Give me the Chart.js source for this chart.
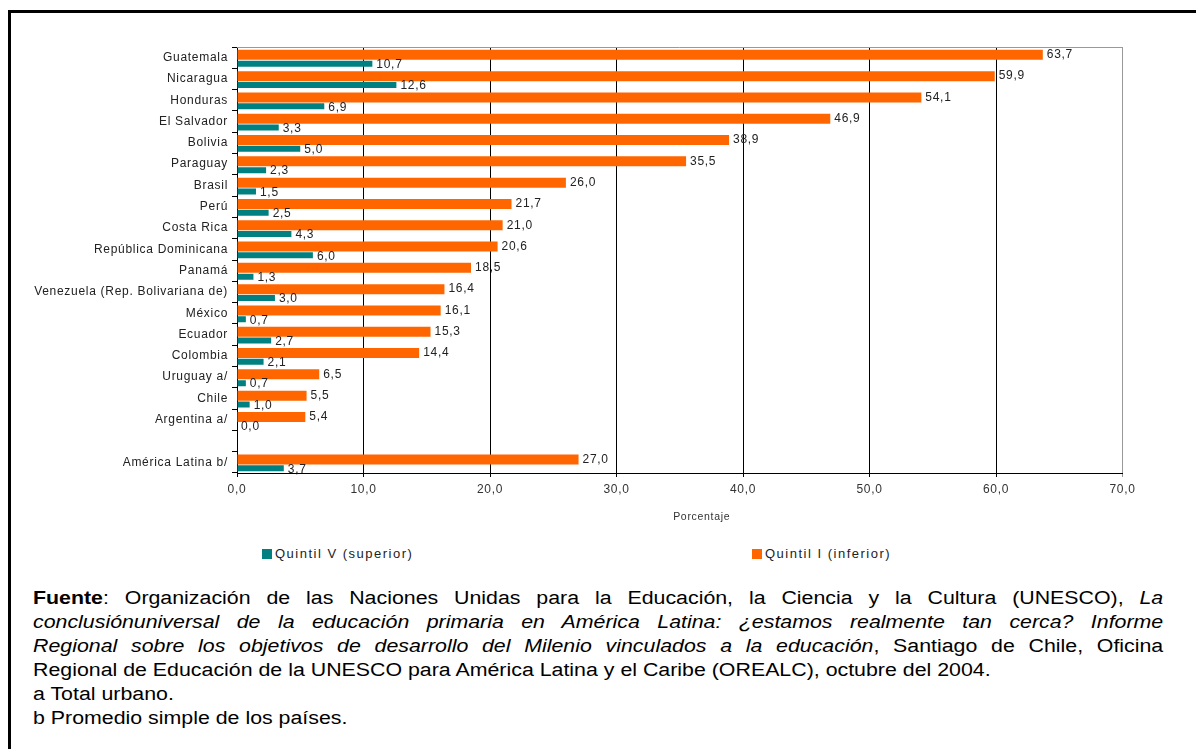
<!DOCTYPE html>
<html>
<head>
<meta charset="utf-8">
<script src="https://cdn.jsdelivr.net/npm/chart.js@4/dist/chart.umd.min.js"></script>
<style>
body { margin: 0; background: #fff; width: 1196px; height: 749px; overflow: hidden; position: relative; font-family: "Liberation Sans", Arial, sans-serif; }
#frame { position: absolute; left: 8px; top: 10px; width: 1200px; height: 760px; border-top: 3px solid #000; border-left: 3px solid #000; }
#wrap { position: absolute; left: 0; top: 0; width: 1196px; height: 540px; }
.leg { position: absolute; top: 546px; font-size: 13px; letter-spacing: 1.5px; line-height: 16px; color: #222; }
.leg i { display: inline-block; width: 10px; height: 10px; margin-right: 3px; vertical-align: -1px; }
#note { position: absolute; left: 33px; top: 586px; width: 953px; font-size: 18px; line-height: 24px; color: #000; transform: scaleX(1.186); transform-origin: 0 0; }
.j { text-align: justify; text-align-last: justify; }
</style>
</head>
<body>
<div id="frame"></div>
<div id="wrap"><canvas id="chart"></canvas></div>
<div class="leg" style="left:262px"><i style="background:#008080"></i>Quintil V (superior)</div>
<div class="leg" style="left:752px"><i style="background:#FF6600"></i>Quintil I (inferior)</div>
<div id="note">
<div class="j"><b>Fuente</b>: Organización de las Naciones Unidas para la Educación, la Ciencia y la Cultura (UNESCO), <i>La</i></div>
<div class="j"><i>conclusiónuniversal de la educación primaria en América Latina: ¿estamos realmente tan cerca? Informe</i></div>
<div class="j"><i>Regional sobre los objetivos de desarrollo del Milenio vinculados a la educación</i>, Santiago de Chile, Oficina</div>
<div>Regional de Educación de la UNESCO para América Latina y el Caribe (OREALC), octubre del 2004.</div>
<div>a Total urbano.</div>
<div>b Promedio simple de los países.</div>
</div>
<script>
var paises = ['Guatemala', 'Nicaragua', 'Honduras', 'El Salvador', 'Bolivia', 'Paraguay', 'Brasil', 'Perú',
  'Costa Rica', 'República Dominicana', 'Panamá', 'Venezuela (Rep. Bolivariana de)', 'México', 'Ecuador',
  'Colombia', 'Uruguay a/', 'Chile', 'Argentina a/', '', 'América Latina b/'];
var quintilI = [63.7, 59.9, 54.1, 46.9, 38.9, 35.5, 26.0, 21.7, 21.0, 20.6, 18.5, 16.4, 16.1, 15.3, 14.4, 6.5, 5.5, 5.4, null, 27.0];
var quintilV = [10.7, 12.6, 6.9, 3.3, 5.0, 2.3, 1.5, 2.5, 4.3, 6.0, 1.3, 3.0, 0.7, 2.7, 2.1, 0.7, 1.0, 0.0, null, 3.7];
var ticksX = [0, 10, 20, 30, 40, 50, 60, 70];
var tituloX = 'Porcentaje';

function coma(v) { return v.toFixed(1).replace('.', ','); }

var FONT = '"Liberation Sans", Arial, sans-serif';

var espaciado = {
  id: 'espaciado',
  beforeUpdate: function (chart) { chart.ctx.letterSpacing = '0.7px'; },
  beforeDraw: function (chart) { chart.ctx.letterSpacing = '0.7px'; }
};

// gray line on top of the plot area, axis title a bit right of centre
var bordeSup = {
  id: 'bordeSup',
  beforeDatasetsDraw: function (chart) {
    var a = chart.chartArea, ctx = chart.ctx;
    ctx.save();
    ctx.strokeStyle = '#999';
    ctx.lineWidth = 1;
    ctx.beginPath();
    ctx.moveTo(a.left, a.top + 0.5);
    ctx.lineTo(a.right, a.top + 0.5);
    ctx.stroke();
    ctx.restore();
  },
  afterDraw: function (chart) {
    var a = chart.chartArea, ctx = chart.ctx;
    ctx.save();
    ctx.font = '10.5px ' + FONT;
    ctx.fillStyle = '#333';
    ctx.textAlign = 'center';
    ctx.textBaseline = 'middle';
    ctx.fillText(tituloX, (a.left + a.right) / 2 + 22, a.bottom + 44);
    ctx.restore();
  }
};

var etiquetas = {
  id: 'etiquetas',
  afterDatasetsDraw: function (chart) {
    var ctx = chart.ctx;
    ctx.save();
    ctx.font = '12px ' + FONT;
    ctx.fillStyle = '#222';
    ctx.textBaseline = 'middle';
    ctx.textAlign = 'left';
    chart.data.datasets.forEach(function (ds, i) {
      chart.getDatasetMeta(i).data.forEach(function (bar, j) {
        var v = ds.data[j];
        if (v == null) return;
        ctx.fillText(coma(v), bar.x + 4, bar.y + (i == 1 ? 1 : 0));
      });
    });
    ctx.restore();
  }
};

new Chart(document.getElementById('chart'), {
  type: 'bar',
  data: {
    labels: paises,
    datasets: [{
      label: 'Quintil I (inferior)',
      data: quintilI,
      backgroundColor: '#FF6600',
      categoryPercentage: 0.526,
      barPercentage: 1.79
    }, {
      label: 'Quintil V (superior)',
      data: quintilV,
      backgroundColor: '#008080',
      categoryPercentage: 1.127,
      barPercentage: 0.5
    }]
  },
  options: {
    indexAxis: 'y',
    responsive: true,
    maintainAspectRatio: false,
    animation: false,
    layout: { padding: { left: 0, top: 47, right: 73.5, bottom: 13 } },
    plugins: {
      legend: { display: false },
      tooltip: { enabled: false }
    },
    scales: {
      x: {
        min: 0,
        max: 70,
        afterBuildTicks: function (s) { s.ticks = ticksX.map(function (v) { return { value: v }; }); },
        afterFit: function (s) { s.height = 54; },
        ticks: {
          padding: 5,
          color: '#333',
          font: { family: FONT, size: 12 },
          callback: function (v) { return coma(v); }
        },
        grid: {
          color: function (c) { return c.tick && c.tick.value === 70 ? '#999' : '#000'; },
          tickLength: 4
        },
        border: { color: '#000' }
      },
      y: {
        afterFit: function (s) { s.width = 237; },
        ticks: {
          autoSkip: false,
          padding: 4,
          color: '#222',
          font: { family: FONT, size: 12 }
        },
        grid: {
          offset: true,
          drawOnChartArea: false,
          tickLength: 5,
          color: '#000'
        },
        border: { color: '#000' }
      }
    }
  },
  plugins: [espaciado, bordeSup, etiquetas]
});
</script>
</body>
</html>
